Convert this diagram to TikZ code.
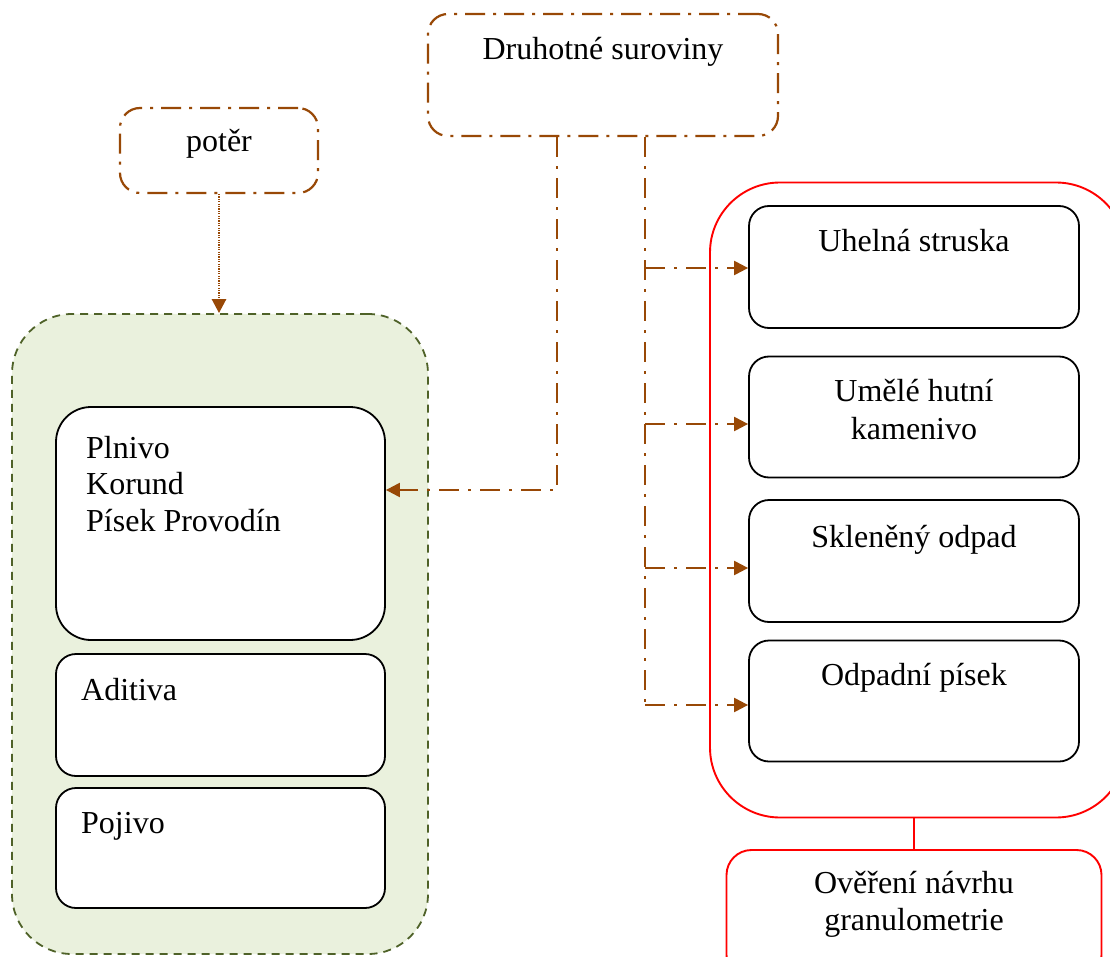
\documentclass[tikz,border=0pt]{standalone}
\usepackage{fontspec}
\setmainfont{Liberation Serif}
\usetikzlibrary{arrows.meta}
\definecolor{brn}{HTML}{984806}
\definecolor{gfill}{HTML}{EAF1DD}
\definecolor{gline}{HTML}{4F6228}
\definecolor{rd}{HTML}{FF0000}
\tikzset{
  txt/.style={font=\fontsize{32}{36}\selectfont, inner sep=0pt},
  wbox/.style={draw=black, line width=1.8pt, fill=white, rounded corners=20, inner sep=0pt},
  dbox/.style={draw=brn, line width=2.2pt, dash pattern=on 20pt off 8pt on 3pt off 8pt, rounded corners=20, fill=white, inner sep=0pt},
  bline/.style={draw=brn, line width=2.2pt, dash pattern=on 20pt off 9pt on 3pt off 9pt},
  tip/.style={-{Triangle[length=14pt,width=14pt]}},
  gbox/.style={draw=gline, fill=gfill, line width=1.8pt, dash pattern=on 8pt off 6pt, rounded corners=60, inner sep=0pt},
  rbox/.style={draw=rd, line width=1.9pt, rounded corners=70, inner sep=0pt},
  rsmall/.style={draw=rd, line width=1.9pt, rounded corners=25, fill=white, inner sep=0pt}
}
\begin{document}
\begin{tikzpicture}[x=1pt,y=-1pt]
\useasboundingbox (0,0) rectangle (1110,957);
\clip (0,0) rectangle (1110,957);
\fill[white] (0,0) rectangle (1110,957);

% green container
\node[gbox, minimum width=416, minimum height=640] (green) at (220,634) {};
% red container
\node[rbox, minimum width=416, minimum height=635] (red) at (918,500) {};

% top boxes
\node[dbox, minimum width=350, minimum height=122] (dru) at (603,75) {};
\node[txt, anchor=base] (drut) at (603,60) {Druhotné suroviny};
\node[dbox, minimum width=198, minimum height=85] (poter) at (219,150.5) {};
\node[txt, anchor=base] (potert) at (219,152) {potěr};

% left boxes
\node[wbox, rounded corners=35, minimum width=329, minimum height=233] (pln) at (220.5,523.5) {};
\node[txt, anchor=base west] (pl1) at (86,458) {Plnivo};
\node[txt, anchor=base west] (pl2) at (86,494) {Korund};
\node[txt, anchor=base west] (pl3) at (86,531) {Písek Provodín};
\node[wbox, minimum width=329, minimum height=122] (adi) at (220.5,715) {};
\node[txt, anchor=base west] (adit) at (81,700) {Aditiva};
\node[wbox, minimum width=329, minimum height=120] (poj) at (220.5,848) {};
\node[txt, anchor=base west] (pojt) at (81,833) {Pojivo};

% right boxes
\node[wbox, minimum width=330, minimum height=122] (uhe) at (914,267) {};
\node[txt, anchor=base] (uhet) at (914,252) {Uhelná struska};
\node[wbox, minimum width=330, minimum height=121] (ume) at (914,417) {};
\node[txt, anchor=base] (umet1) at (914,401) {Umělé hutní};
\node[txt, anchor=base] (umet2) at (914,439) {kamenivo};
\node[wbox, minimum width=330, minimum height=122] (skl) at (914,561) {};
\node[txt, anchor=base] (sklt) at (914,547) {Skleněný odpad};
\node[wbox, minimum width=330, minimum height=121] (odp) at (914,701) {};
\node[txt, anchor=base] (odpt) at (914,685) {Odpadní písek};

% bottom red box
\node[rsmall, minimum width=375, minimum height=130] (ove) at (914,915) {};
\node[txt, anchor=base] (ovet1) at (914,893) {Ověření návrhu};
\node[txt, anchor=base] (ovet2) at (914,930) {granulometrie};

% connectors
\coordinate (sl) at (557,490);
\coordinate (sr) at (645,705);
\draw[draw=brn, line width=2.6pt, dash pattern=on 1.2pt off 1.2pt, tip] (poter.south) -- (green.north -| poter.south);
\draw[bline, tip] (dru.south -| sl) -- (sl) -- (sl -| pln.east);
\draw[bline] (dru.south -| sr) -- (sr);
\draw[bline, tip] (sr |- 0,268) -- (uhe.west |- 0,268);
\draw[bline, tip] (sr |- 0,424) -- (ume.west |- 0,424);
\draw[bline, tip] (sr |- 0,568) -- (skl.west |- 0,568);
\draw[bline, tip] (sr) -- (odp.west |- sr);
\draw[draw=rd, line width=1.9pt] (red.south -| ove.north) -- (ove.north);
\end{tikzpicture}
\end{document}
